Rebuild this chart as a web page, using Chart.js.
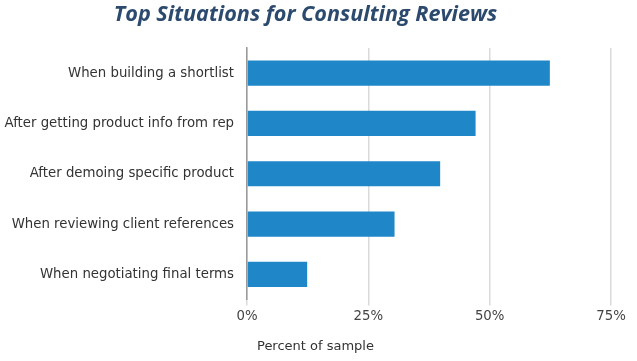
<!DOCTYPE html>
<html>
<head>
<meta charset="utf-8">
<script src="https://cdn.jsdelivr.net/npm/chart.js@4.4.0/dist/chart.umd.min.js"></script>
<style>
  html, body { margin: 0; padding: 0; background: #fff; }
  #wrap { width: 637px; height: 361px; position: relative; }
</style>
</head>
<body>
<div id="wrap"><canvas id="barChart"></canvas></div>
<script>
// data
const situations = [
    'When building a shortlist',
    'After getting product info from rep',
    'After demoing specific product',
    'When reviewing client references',
    'When negotiating final terms'
];
const percentOfSample = [62.4, 47.1, 39.8, 30.4, 12.4];
const xTicks = [0, 25, 50, 75];
const xAxisTitle = 'Percent of sample';

// axis title sits a bit right of the plot's left edge, so draw it ourselves
const axisTitlePlugin = {
    id: 'axisTitle',
    afterDraw(chart) {
        const ctx = chart.ctx;
        ctx.save();
        ctx.font = '13px "DejaVu Sans"';
        ctx.fillStyle = '#333';
        ctx.textBaseline = 'middle';
        ctx.fillText(xAxisTitle, chart.chartArea.left + 10, 347);
        ctx.restore();
    }
};

new Chart(document.getElementById('barChart').getContext('2d'), {
    type: 'bar',
    data: {
        labels: situations,
        datasets: [{
            label: xAxisTitle,
            data: percentOfSample,
            backgroundColor: '#1f87c8',
            categoryPercentage: 1,
            barPercentage: 0.5
        }]
    },
    options: {
        indexAxis: 'y',
        responsive: true,
        maintainAspectRatio: false,
        animation: false,
        layout: { padding: { top: 0, right: 26, bottom: 33.5, left: 0 } },
        plugins: {
            legend: { display: false },
            tooltip: { enabled: false },
            title: {
                display: true,
                text: 'Top Situations for Consulting Reviews',
                color: '#2c4a6e',
                font: { family: 'Open Sans', size: 21.6, weight: 'bold', style: 'italic' },
                padding: { top: 2, bottom: 20 }
            }
        },
        scales: {
            x: {
                min: 0,
                max: 75,
                afterBuildTicks: scale => { scale.ticks = xTicks.map(v => ({ value: v })); },
                ticks: {
                    color: '#444',
                    font: { family: 'DejaVu Sans', size: 13.3 },
                    padding: 3,
                    callback: v => v + '%'
                },
                grid: { color: '#dadada', lineWidth: 1.5, tickLength: 6 },
                border: { display: false }
            },
            y: {
                afterFit: scale => { scale.width = 247; },
                ticks: { color: '#333', font: { family: 'DejaVu Sans', size: 13.3 }, padding: 13 },
                grid: { display: false, drawTicks: false },
                border: { display: true, color: '#999', width: 1.5 }
            }
        }
    },
    plugins: [axisTitlePlugin]
});
</script>
</body>
</html>
